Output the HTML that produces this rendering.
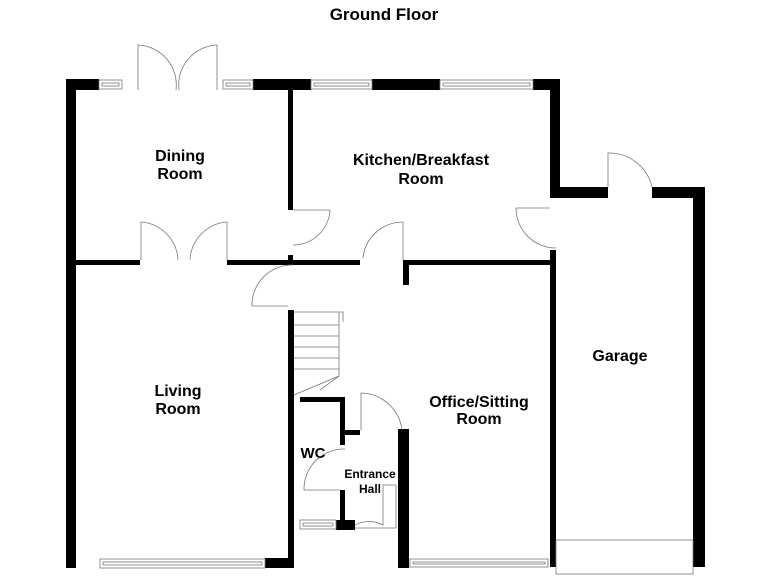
<!DOCTYPE html>
<html><head><style>body{margin:0;background:#fff}svg{display:block}text{font-family:"Liberation Sans",sans-serif;font-weight:bold;fill:#000;text-anchor:middle}</style></head><body>
<svg width="768" height="576" viewBox="0 0 768 576">
<text x="384" y="20" font-size="17">Ground Floor</text>
<g fill="#000">
<rect x="66" y="79" width="10" height="489"/>
<rect x="66" y="79" width="33" height="11"/>
<rect x="253" y="79" width="58" height="11"/>
<rect x="372" y="79" width="68" height="11"/>
<rect x="533" y="79" width="27" height="11"/>
<rect x="550" y="79" width="10" height="118"/>
<rect x="550" y="187" width="58" height="11"/>
<rect x="652" y="187" width="53" height="11"/>
<rect x="693" y="187" width="12" height="380"/>
<rect x="550" y="250" width="6" height="317"/>
<rect x="288" y="90" width="5" height="120"/>
<rect x="76" y="260" width="64" height="5"/>
<rect x="227" y="260" width="133" height="5"/>
<rect x="288" y="255" width="5" height="10"/>
<rect x="403" y="260" width="147" height="5"/>
<rect x="403" y="260" width="6" height="25"/>
<rect x="288" y="310" width="6" height="258"/>
<rect x="265" y="558" width="29" height="10"/>
<rect x="300" y="397" width="45" height="5"/>
<rect x="340" y="397" width="5" height="48"/>
<rect x="340" y="430" width="20" height="5"/>
<rect x="340" y="490" width="5" height="38"/>
<rect x="336" y="520" width="19" height="10"/>
<rect x="398" y="429" width="11" height="139"/>
<rect x="398" y="520" width="11" height="48"/>
</g>
<g fill="none" stroke="#777" stroke-width="0.8">
<rect x="99" y="80" width="23" height="9"/><rect x="102" y="83" width="17" height="3"/>
<rect x="223" y="80" width="30" height="9"/><rect x="226" y="83" width="24" height="3"/>
<rect x="311" y="80" width="61" height="9"/><rect x="314" y="83" width="55" height="3"/>
<rect x="440" y="80" width="93" height="9"/><rect x="443" y="83" width="87" height="3"/>
<rect x="100" y="559" width="165" height="9"/><rect x="103" y="562" width="159" height="3"/>
<rect x="410" y="559" width="138" height="8"/><rect x="413" y="562" width="132" height="2"/>
<rect x="300" y="520" width="36" height="9"/><rect x="303" y="523" width="30" height="3"/>
<rect x="556" y="540" width="137" height="34"/>
<path d="M138 90V45A40 40 0 0 1 176 90M217 90V45A40 40 0 0 0 179 90"/>
<path d="M141 260V222A40 40 0 0 1 178 260M227 260V222A40 40 0 0 0 190 260"/>
<path d="M293 210H330A37 37 0 0 1 293 245"/>
<path d="M403 260V222A40 40 0 0 0 363 258"/>
<path d="M293 265A40 40 0 0 0 252 306H288"/>
<path d="M550 207A40 40 0 0 0 515 207M550 207A40 40 0 0 1 515 207" stroke="none"/>
<path d="M556 248A40 40 0 0 1 516 208H550"/>
<path d="M608 187V153A44 44 0 0 1 652 187"/>
<path d="M361 430V393A42 42 0 0 1 402 430"/>
<path d="M345 449A40 40 0 0 0 304 490H340"/>
<path d="M396 485H383V525A30 30 0 0 0 355 525M355 528H396V485"/>
<path d="M294 312H343V322M294 325H339M294 336H339M294 347H339M294 358H339M294 369H339M339 312V376L320 390M294 395L339 376"/>
</g>
<text x="180" y="161" font-size="16">Dining</text>
<text x="180" y="179" font-size="16">Room</text>
<text x="421" y="165" font-size="16">Kitchen/Breakfast</text>
<text x="421" y="184" font-size="16">Room</text>
<text x="620" y="361" font-size="16">Garage</text>
<text x="178" y="396" font-size="16">Living</text>
<text x="178" y="414" font-size="16">Room</text>
<text x="479" y="407" font-size="16">Office/Sitting</text>
<text x="479" y="424" font-size="16">Room</text>
<text x="313" y="458" font-size="15">WC</text>
<text x="370" y="478" font-size="12">Entrance</text>
<text x="370" y="493" font-size="12">Hall</text>
</svg>
</body></html>
